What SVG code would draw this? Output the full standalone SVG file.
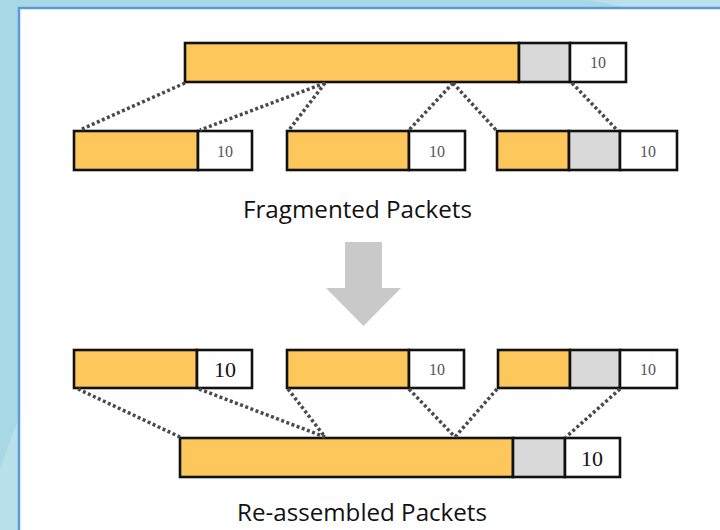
<svg xmlns="http://www.w3.org/2000/svg" width="720" height="530" viewBox="0 0 720 530">
  <style>
    .data { fill: #fdc75b; stroke: #111; stroke-width: 2.6; }
    .pad { fill: #d9d9d9; stroke: #111; stroke-width: 2.6; }
    .hdr { fill: #ffffff; stroke: #111; stroke-width: 2.6; }
    .num { font-family: "Liberation Serif", "DejaVu Serif", serif; text-anchor: middle; }
    .num-s { font-size: 16px; fill: #555; }
    .num-l { font-size: 22px; fill: #111; }
    .cap { font-family: "Open Sans", "Noto Sans", sans-serif; font-size: 23px; fill: #111; }
    .dots { stroke: #4a4a4a; stroke-width: 3.5; stroke-dasharray: 3 2.5; fill: none; }
  </style>

  <!-- slide background and white panel -->
  <rect x="0" y="0" width="720" height="530" fill="#a8d7e6"/>
  <path d="M590 0 Q610 4 625 8 L720 8 L720 0 Z" fill="#bae0ec"/>
  <path d="M0 530 L0 470 Q10 440 18 420 L18 530 Z" fill="#bae0ec"/>
  <rect x="19" y="8" width="710" height="530" fill="#ffffff" stroke="#5b9bd5" stroke-width="2.5"/>

  <!-- original packet -->
  <g id="packet-original">
    <rect class="data" x="185" y="43" width="334" height="39"/>
    <rect class="pad" x="519" y="43" width="51" height="39"/>
    <rect class="hdr" x="570" y="43" width="56" height="39"/>
    <text class="num num-s" x="598" y="68">10</text>
  </g>

  <!-- fragments -->
  <g id="fragment-1">
    <rect class="data" x="74" y="131" width="124" height="39"/>
    <rect class="hdr" x="198" y="131" width="54" height="39"/>
    <text class="num num-s" x="225" y="157">10</text>
  </g>
  <g id="fragment-2">
    <rect class="data" x="287" y="131" width="122" height="39"/>
    <rect class="hdr" x="409" y="131" width="56" height="39"/>
    <text class="num num-s" x="437" y="157">10</text>
  </g>
  <g id="fragment-3">
    <rect class="data" x="497" y="131" width="72" height="39"/>
    <rect class="pad" x="569" y="131" width="51" height="39"/>
    <rect class="hdr" x="620" y="131" width="57" height="39"/>
    <text class="num num-s" x="648" y="157">10</text>
  </g>

  <text id="label-fragmented" class="cap" x="243" y="218" textLength="229" lengthAdjust="spacingAndGlyphs">Fragmented Packets</text>

  <!-- process arrow -->
  <g id="arrow-down">
    <path d="M345 242 L382 242 L382 288 L401 288 L363.5 326 L326 288 L345 288 Z" fill="#c9c9c9"/>
  </g>

  <!-- received fragments -->
  <g id="received-1">
    <rect class="data" x="74" y="350" width="123" height="38"/>
    <rect class="hdr" x="197" y="350" width="55" height="38"/>
    <text class="num num-l" x="225" y="377">10</text>
  </g>
  <g id="received-2">
    <rect class="data" x="287" y="350" width="122" height="38"/>
    <rect class="hdr" x="409" y="350" width="55" height="38"/>
    <text class="num num-s" x="437" y="375">10</text>
  </g>
  <g id="received-3">
    <rect class="data" x="498" y="350" width="72" height="38"/>
    <rect class="pad" x="570" y="350" width="50" height="38"/>
    <rect class="hdr" x="620" y="350" width="57" height="38"/>
    <text class="num num-s" x="648" y="375">10</text>
  </g>

  <!-- reassembled packet -->
  <g id="packet-reassembled">
    <rect class="data" x="180" y="438" width="333" height="39"/>
    <rect class="pad" x="513" y="438" width="52" height="39"/>
    <rect class="hdr" x="565" y="438" width="55" height="39"/>
    <text class="num num-l" x="592" y="466">10</text>
  </g>

  <text id="label-reassembled" class="cap" x="237" y="521" textLength="250" lengthAdjust="spacingAndGlyphs">Re-assembled Packets</text>

  <!-- dotted mapping lines -->
  <g id="connectors">
    <line class="dots" x1="185" y1="83" x2="80" y2="130"/>
    <line class="dots" x1="325" y1="83" x2="200" y2="130"/>
    <line class="dots" x1="325" y1="83" x2="289" y2="130"/>
    <line class="dots" x1="453" y1="83" x2="409" y2="130"/>
    <line class="dots" x1="453" y1="83" x2="496" y2="130"/>
    <line class="dots" x1="572" y1="83" x2="617" y2="130"/>

    <line class="dots" x1="78" y1="389" x2="180" y2="437"/>
    <line class="dots" x1="199" y1="389" x2="325" y2="437"/>
    <line class="dots" x1="288" y1="389" x2="325" y2="437"/>
    <line class="dots" x1="409" y1="389" x2="455" y2="437"/>
    <line class="dots" x1="497" y1="389" x2="455" y2="437"/>
    <line class="dots" x1="620" y1="389" x2="566" y2="437"/>
  </g>
</svg>
